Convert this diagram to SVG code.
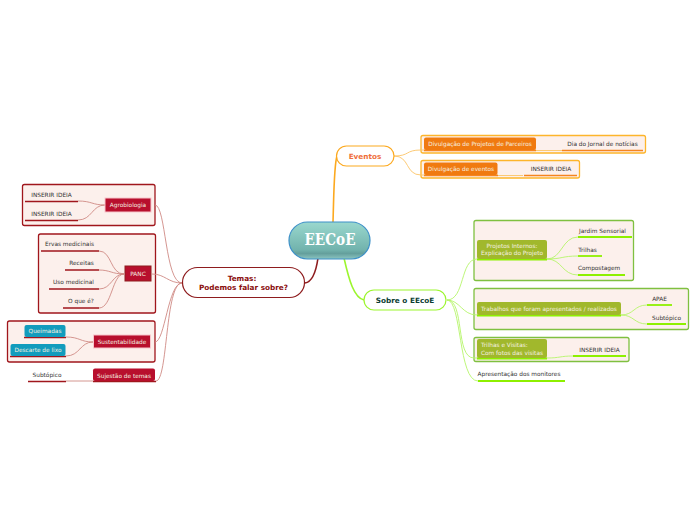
<svg xmlns="http://www.w3.org/2000/svg" width="696" height="520" viewBox="0 0 696 520">
<defs>
<linearGradient id="cg" x1="0" y1="0" x2="0" y2="1"><stop offset="0" stop-color="#9ad8ce"/><stop offset="0.75" stop-color="#72b3ad"/><stop offset="0.85" stop-color="#649f9c"/><stop offset="1" stop-color="#8cc5c1"/></linearGradient>
</defs>
<style>
text{font-family:"DejaVu Sans","Liberation Sans",sans-serif;font-size:5.800px;fill:#333;text-anchor:middle}
.wt{fill:#f5f0e0}
.bx{fill:#fcf0ec;stroke-width:1.300}
.r{stroke:#a0161c}.g{stroke:#7fc040}.o{stroke:#fdb52b}
.c{fill:none;stroke-width:.9}
.cr{stroke:#cf8a84}.cg{stroke:#b6f56a}.co{stroke:#fcc467}
.u{fill:none;stroke-width:1.500}
.ur{stroke:#a0161c}.ug{stroke:#8ef000;stroke-width:1.800}.uo{stroke:#f5851f}
.rn{fill:#b80f2d}.gn{fill:#a1b82c}.on{fill:#f07a10}.bn{fill:#129cbd}
.m{fill:#fff;stroke-width:1.200}
.b{font-weight:bold;font-size:7.300px}
</style>
<g id="boxes">
<rect class="bx r" x="22.500" y="184.500" width="132.500" height="41" rx="2"/>
<rect class="bx r" x="38.500" y="234" width="117" height="79" rx="2"/>
<rect class="bx r" x="7.500" y="321" width="147.500" height="41" rx="2"/>
<rect class="bx o" x="421" y="135.500" width="224.500" height="17.500" rx="2"/>
<rect class="bx o" x="421" y="160.500" width="158.500" height="17.500" rx="2"/>
<rect class="bx g" x="474" y="220.500" width="159.500" height="60" rx="2"/>
<rect class="bx g" x="474" y="288.500" width="214.500" height="41" rx="2"/>
<rect class="bx g" x="474" y="337.500" width="155" height="24" rx="2"/>
</g>
<g id="connectors">
<path d="M333 222C334 190 334 165 337 156" fill="none" stroke="#fca91f" stroke-width="1.600"/>
<path d="M318 258C316 272 312 282 305 283" fill="none" stroke="#8e1c1e" stroke-width="1.600"/>
<path d="M344 258C349 280 354 298 364 300" fill="none" stroke="#9cf52e" stroke-width="1.600"/>
<g class="c co">
<path d="M394 156C410 156 405 150 421 150H536"/>
<path d="M394 156C410 156 405 175 421 175H498"/>
<path d="M536 150.500H562"/><path d="M498 175.500H523"/>
</g>
<g class="c cr">
<path d="M182 283C165 283 166 205 155 205"/>
<path d="M182 283C168 283 165 274 152 274"/>
<path d="M182 283C168 283 165 342 155 342"/>
<path d="M182 283C165 283 168 381 156 381"/>
<path d="M105 205C92 205 92 201 78 201"/>
<path d="M105 205C92 205 92 220 78 220"/>
<path d="M124 274C110 274 112 251 99 251"/>
<path d="M124 274C112 274 110 270 99 270"/>
<path d="M124 274C112 274 112 289 99 289"/>
<path d="M124 274C112 274 112 308 99 308"/>
<path d="M93 342C80 342 80 337 66 337"/>
<path d="M93 342C80 342 80 356 66 356"/>
<path d="M93 381H66"/>
</g>
<g class="c cg">
<path d="M447 300C465 300 460 259 477 259H547"/>
<path d="M447 300C460 300 462 315 477 315H621"/>
<path d="M447 300C465 300 455 358 474 358H547"/>
<path d="M447 300C462 300 458 381 478 381"/>
<path d="M547 259C562 259 562 237 578 237"/>
<path d="M547 259C562 259 562 256 578 256"/>
<path d="M547 259C562 259 562 275 578 275"/>
<path d="M621 315C634 315 634 305 647 305"/>
<path d="M621 315C634 315 634 324 647 324"/>
<path d="M547 358C560 358 560 356 573 356"/>
</g>
<g class="u ur">
<path d="M25 201.500H78"/><path d="M25 220.500H78"/>
<path d="M41 251H99"/><path d="M65 270H99"/><path d="M49 289H99"/><path d="M63 308H99"/>
<path d="M24 337.500H66"/><path d="M10 356.500H66"/>
<path d="M28 381.500H66"/><path d="M93 381.500H156"/>
</g>
<g class="u ug">
<path d="M578 237H632"/><path d="M578 256H602"/><path d="M578 275H625"/>
<path d="M647 305H672"/><path d="M647 324H686"/>
<path d="M573 356H626"/><path d="M478 381H565"/>
<path d="M477 259.500H547"/><path d="M477 315.500H621"/><path d="M477 358.500H547"/>
</g>
<g class="u uo">
<path d="M562 150.500H643"/><path d="M524 175.500H577"/>
<path d="M424 150.500H536"/><path d="M424 175.500H498"/>
</g>
</g>
<g id="center">
<rect x="289" y="222" width="81" height="37" rx="18.500" fill="url(#cg)" stroke="#3d90c8" stroke-width="1.200"/>
<text x="330" y="245" style="font-family:'DejaVu Serif',serif;font-size:16.500px;font-weight:bold;fill:#fff" textLength="51" lengthAdjust="spacingAndGlyphs">EECoE</text>
</g>
<g id="temas">
<rect class="m" x="182.500" y="267.500" width="122" height="30" rx="15" stroke="#8e1c1e"/>
<text class="b" x="242" y="281" style="fill:#8a0d0d">Temas:</text>
<text class="b" x="243.500" y="290" style="fill:#8a0d0d">Podemos falar sobre?</text>
</g>
<g id="eventos">
<rect class="m" x="336.500" y="146" width="57.500" height="20" rx="10" stroke="#fca91f"/>
<text class="b" x="365" y="159" style="fill:#ef6f3c">Eventos</text>
</g>
<g id="sobre">
<rect class="m" x="364" y="290" width="82" height="20" rx="10" stroke="#9cf52e"/>
<text class="b" x="405" y="303" style="fill:#0b3d32">Sobre o EEcoE</text>
</g>
<g id="agrobiologia">
<rect x="105" y="198" width="46" height="14" fill="#b80f2d" stroke="#f7c6cc"/>
<text class="wt" x="128" y="207">Agrobiologia</text>
</g>
<g id="panc">
<rect x="125" y="266" width="26" height="15" fill="#b80f2d" stroke="#8e1c1e"/>
<text class="wt" x="138" y="276">PANC</text>
</g>
<g id="sustentabilidade">
<rect x="93.500" y="335" width="57" height="13" fill="#b80f2d" stroke="#f7c6cc"/>
<text class="wt" x="122" y="344">Sustentabilidade</text>
</g>
<g id="sugestao">
<rect class="rn" x="93" y="368.500" width="62" height="12.500" rx="2"/>
<text class="wt" x="124" y="377.500">Sujestão de temas</text>
</g>
<g id="queimadas"><rect class="bn" x="24.500" y="325" width="41" height="12" rx="2"/><text class="wt" x="45" y="333">Queimadas</text></g>
<g id="descarte"><rect class="bn" x="10.500" y="344" width="55" height="12" rx="2"/><text class="wt" x="38" y="352">Descarte de lixo</text></g>
<g id="red-leaves">
<text x="51.500" y="197">INSERIR IDEIA</text>
<text x="51.500" y="216">INSERIR IDEIA</text>
<text x="69.500" y="246">Ervas medicinais</text>
<text x="81.500" y="265">Receitas</text>
<text x="73.500" y="284">Uso medicinal</text>
<text x="81" y="303">O que é?</text>
<text x="47" y="377">Subtópico</text>
</g>
<g id="proj-parceiros"><rect class="on" x="424" y="137.500" width="112" height="12.500" rx="2"/><text class="wt" x="480" y="146">Divulgação de Projetos de Parceiros</text></g>
<g id="div-eventos"><rect class="on" x="424" y="162.500" width="73.500" height="12.500" rx="2"/><text class="wt" x="461" y="171">Divulgação de eventos</text></g>
<g id="orange-leaves">
<text x="602.500" y="146">Dia do Jornal de notícias</text>
<text x="551" y="171">INSERIR IDEIA</text>
</g>
<g id="proj-internos"><rect class="gn" x="477" y="240" width="70" height="19" rx="2"/><text class="wt" x="512" y="248">Projetos Internos:</text><text class="wt" x="512" y="255">Explicação do Projeto</text></g>
<g id="trabalhos"><rect class="gn" x="477" y="302" width="144" height="13" rx="2"/><text class="wt" x="549" y="310.500">Trabalhos que foram apresentados / realizados</text></g>
<g id="trilhas-visitas"><rect class="gn" x="477" y="339" width="70" height="19" rx="2"/><text class="wt" x="481" y="347" style="text-anchor:start">Trilhas e Visitas:</text><text class="wt" x="481" y="354.500" style="text-anchor:start">Com fotos das visitas</text></g>
<g id="green-leaves">
<text x="602.500" y="233">Jardim Sensorial</text>
<text x="587.500" y="252">Trilhas</text>
<text x="599" y="270">Compostagem</text>
<text x="659.500" y="301">APAE</text>
<text x="666.500" y="320">Subtópico</text>
<text x="599.500" y="351.500">INSERIR IDEIA</text>
<text x="519" y="376">Apresentação dos monitores</text>
</g>
</svg>
